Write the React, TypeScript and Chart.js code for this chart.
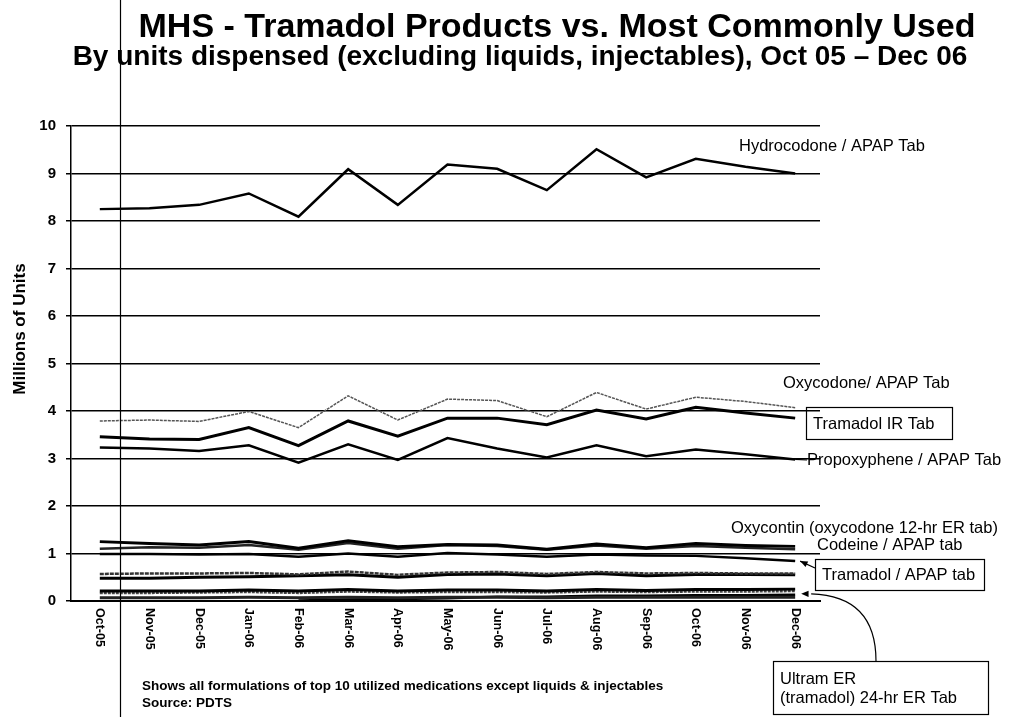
import React, { useEffect, useRef } from "react";
import { Chart, registerables } from "chart.js";

Chart.register(...registerables);

const categories = ["Oct-05", "Nov-05", "Dec-05", "Jan-06", "Feb-06", "Mar-06", "Apr-06", "May-06", "Jun-06", "Jul-06", "Aug-06", "Sep-06", "Oct-06", "Nov-06", "Dec-06"];

const hydrocodoneApap = [8.25, 8.27, 8.34, 8.58, 8.09, 9.09, 8.34, 9.19, 9.1, 8.65, 9.51, 8.92, 9.31, 9.14, 9.0];
const oxycodoneApap = [3.79, 3.81, 3.78, 3.99, 3.65, 4.32, 3.81, 4.25, 4.22, 3.88, 4.39, 4.04, 4.29, 4.2, 4.07];
const tramadolIR = [3.46, 3.41, 3.4, 3.65, 3.27, 3.79, 3.47, 3.85, 3.85, 3.71, 4.02, 3.83, 4.08, 3.96, 3.85];
const propoxypheneApap = [3.23, 3.21, 3.16, 3.28, 2.91, 3.3, 2.97, 3.43, 3.21, 3.02, 3.28, 3.05, 3.19, 3.09, 2.98];
const oxycontin = [1.25, 1.21, 1.18, 1.25, 1.11, 1.27, 1.14, 1.19, 1.18, 1.09, 1.2, 1.12, 1.21, 1.17, 1.15];
const codeineApap = [1.1, 1.13, 1.12, 1.18, 1.08, 1.22, 1.1, 1.18, 1.16, 1.08, 1.17, 1.1, 1.16, 1.12, 1.09];
const tramadolApap = [0.99, 0.99, 0.98, 0.99, 0.93, 1.0, 0.93, 1.01, 0.98, 0.93, 0.98, 0.96, 0.95, 0.9, 0.84];
const otherA = [0.57, 0.58, 0.58, 0.59, 0.56, 0.62, 0.55, 0.6, 0.61, 0.57, 0.61, 0.58, 0.59, 0.58, 0.58];
const otherB = [0.48, 0.48, 0.5, 0.51, 0.53, 0.55, 0.5, 0.56, 0.57, 0.53, 0.58, 0.53, 0.56, 0.56, 0.55];
const otherC = [0.21, 0.21, 0.21, 0.23, 0.21, 0.24, 0.21, 0.23, 0.23, 0.21, 0.24, 0.22, 0.24, 0.24, 0.25];
const otherD = [0.17, 0.17, 0.18, 0.19, 0.17, 0.2, 0.18, 0.19, 0.19, 0.18, 0.2, 0.19, 0.2, 0.2, 0.21];
const otherE = [0.07, 0.07, 0.07, 0.08, 0.07, 0.08, 0.07, 0.08, 0.08, 0.07, 0.08, 0.08, 0.08, 0.08, 0.08];
const ultramER = [null, null, null, null, 0.01, 0.03, 0.04, 0.06, 0.09, 0.09, 0.11, 0.11, 0.12, 0.12, 0.13];

const yMin = 0;
const yMax = 10;

const TITLE = "MHS - Tramadol Products vs. Most Commonly Used";
const SUBTITLE = "By units dispensed (excluding liquids, injectables), Oct 05 \u2013 Dec 06";
const Y_TITLE = "Millions of Units";
const NOTE1 = "Shows all formulations of top 10 utilized medications except liquids & injectables";
const NOTE2 = "Source: PDTS";

const FONT = '"Liberation Sans", Arial, sans-serif';

const toPoints = (arr: (number | null)[]) => arr.map((v, i) => ({ x: i, y: v }));

function arrowHead(ctx: CanvasRenderingContext2D, fx: number, fy: number, tx: number, ty: number, size: number) {
  const a = Math.atan2(ty - fy, tx - fx);
  ctx.beginPath();
  ctx.moveTo(tx, ty);
  ctx.lineTo(tx - size * Math.cos(a - 0.4), ty - size * Math.sin(a - 0.4));
  ctx.lineTo(tx - size * Math.cos(a + 0.4), ty - size * Math.sin(a + 0.4));
  ctx.closePath();
  ctx.fill();
}

const decor = {
  id: "decor",
  afterDraw(chart: any) {
    const { ctx, chartArea } = chart;
    const x = chart.scales.x;
    const y = chart.scales.y;
    ctx.save();
    ctx.fillStyle = "#000";
    ctx.strokeStyle = "#000";

    // x category labels, rotated clockwise
    ctx.font = `bold 12.5px ${FONT}`;
    ctx.textAlign = "left";
    ctx.textBaseline = "middle";
    categories.forEach((c, i) => {
      const px = x.getPixelForValue(i);
      ctx.save();
      ctx.translate(px, chartArea.bottom + 7);
      ctx.rotate(Math.PI / 2);
      ctx.fillText(c, 0, 0);
      ctx.restore();
    });

    // titles
    ctx.textAlign = "center";
    ctx.textBaseline = "alphabetic";
    ctx.font = `bold 34px ${FONT}`;
    ctx.fillText(TITLE, 557, 37);
    ctx.font = `bold 28px ${FONT}`;
    ctx.fillText(SUBTITLE, 520, 65);

    // y title
    ctx.save();
    ctx.translate(20, 329);
    ctx.rotate(-Math.PI / 2);
    ctx.font = `bold 17px ${FONT}`;
    ctx.textBaseline = "middle";
    ctx.fillText(Y_TITLE, 0, 0);
    ctx.restore();

    // series annotations
    ctx.font = `16.5px ${FONT}`;
    ctx.textAlign = "left";
    ctx.textBaseline = "middle";
    ctx.fillText("Hydrocodone / APAP Tab", 739, 146);
    ctx.fillText("Oxycodone/ APAP Tab", 783, 383);
    ctx.fillText("Propoxyphene / APAP Tab", 807, 460);
    ctx.fillText("Oxycontin (oxycodone 12-hr ER tab)", 731, 528);
    ctx.fillText("Codeine / APAP tab", 817, 545);

    ctx.lineWidth = 1.2;
    ctx.strokeRect(806.5, 407.5, 146, 32);
    ctx.fillText("Tramadol IR Tab", 813, 424);

    // propoxyphene leader
    const last = categories.length - 1;
    ctx.beginPath();
    ctx.moveTo(x.getPixelForValue(last), y.getPixelForValue(propoxypheneApap[last]));
    ctx.lineTo(807, 460);
    ctx.stroke();

    // tramadol / apap box + arrow
    ctx.strokeRect(815.5, 559.5, 169, 31);
    ctx.fillText("Tramadol / APAP tab", 822, 575);
    const tax = x.getPixelForValue(last) + 5;
    const tay = y.getPixelForValue(tramadolApap[last]);
    ctx.beginPath();
    ctx.moveTo(815, 568);
    ctx.lineTo(tax, tay);
    ctx.stroke();
    arrowHead(ctx, 815, 568, tax, tay, 8);

    // ultram box + curved arrow
    ctx.strokeRect(773.5, 661.5, 215, 53);
    ctx.fillText("Ultram ER", 780, 679);
    ctx.fillText("(tramadol) 24-hr ER Tab", 780, 698);
    const uy = y.getPixelForValue(ultramER[last] as number) - 1;
    const ux = x.getPixelForValue(last) + 6;
    ctx.beginPath();
    ctx.moveTo(876, 661);
    ctx.quadraticCurveTo(876, uy + 2, ux + 10, uy);
    ctx.stroke();
    arrowHead(ctx, ux + 14, uy, ux, uy, 8);

    // footnotes
    ctx.font = `bold 13.5px ${FONT}`;
    ctx.fillText(NOTE1, 142, 686);
    ctx.fillText(NOTE2, 142, 703);

    // scan artifact vertical line
    ctx.lineWidth = 1.2;
    ctx.beginPath();
    ctx.moveTo(120.5, 0);
    ctx.lineTo(120.5, 717);
    ctx.stroke();

    ctx.restore();
  },
};

export default function App() {
  const ref = useRef<HTMLCanvasElement | null>(null);

  useEffect(() => {
    if (!ref.current) return;
    const line = (data: (number | null)[], color: string, width: number, dash: number[] = []) => ({
      data: toPoints(data),
      borderColor: color,
      backgroundColor: color,
      borderWidth: width,
      borderDash: dash,
      pointRadius: 0,
      tension: 0,
      fill: false,
    });
    const chart = new Chart(ref.current, {
      type: "line",
      data: {
        datasets: [
          { label: "Hydrocodone / APAP Tab", ...line(hydrocodoneApap, "#000", 2.5) },
          { label: "Tramadol IR Tab", ...line(tramadolIR, "#000", 3) },
          { label: "Propoxyphene / APAP Tab", ...line(propoxypheneApap, "#000", 2.5) },
          { label: "Oxycodone/ APAP Tab", ...line(oxycodoneApap, "#555", 1.5, [3, 1]) },
          { label: "Oxycontin", ...line(oxycontin, "#000", 3) },
          { label: "Codeine / APAP tab", ...line(codeineApap, "#222", 2.5) },
          { label: "Tramadol / APAP tab", ...line(tramadolApap, "#000", 2.5) },
          { label: "Other A", ...line(otherA, "#333", 2.5, [4, 1]) },
          { label: "Other B", ...line(otherB, "#000", 3) },
          { label: "Other C", ...line(otherC, "#000", 3) },
          { label: "Other D", ...line(otherD, "#444", 2.5, [3, 1]) },
          { label: "Other E", ...line(otherE, "#222", 3) },
          { label: "Ultram ER", ...line(ultramER, "#000", 2.5) },
        ],
      },
      options: {
        responsive: false,
        animation: false,
        devicePixelRatio: 1,
        layout: { padding: { top: 126, left: 0, right: 191, bottom: 0 } },
        plugins: { legend: { display: false }, tooltip: { enabled: false }, title: { display: false } },
        scales: {
          x: {
            type: "linear",
            min: -0.58,
            max: 14.5,
            ticks: { display: false },
            grid: { display: false },
            border: { display: true, color: "#000", width: 2 },
            afterFit: (s: any) => {
              s.height = 116;
            },
          },
          y: {
            min: yMin,
            max: yMax,
            ticks: {
              stepSize: 1,
              color: "#000",
              padding: 10,
              font: { family: FONT, size: 15, weight: "bold" },
            },
            grid: { color: "#000", lineWidth: 1.5, tickLength: 5, drawTicks: true },
            border: { display: true, color: "#000", width: 1.5 },
            afterFit: (s: any) => {
              s.width = 71;
            },
          },
        },
      },
      plugins: [decor],
    });
    return () => chart.destroy();
  }, []);

  return (
    <div style={{ position: "absolute", left: 0, top: 0, width: 1011, height: 717, background: "#fff" }}>
      <canvas ref={ref} width={1011} height={717} style={{ display: "block" }} />
    </div>
  );
}
